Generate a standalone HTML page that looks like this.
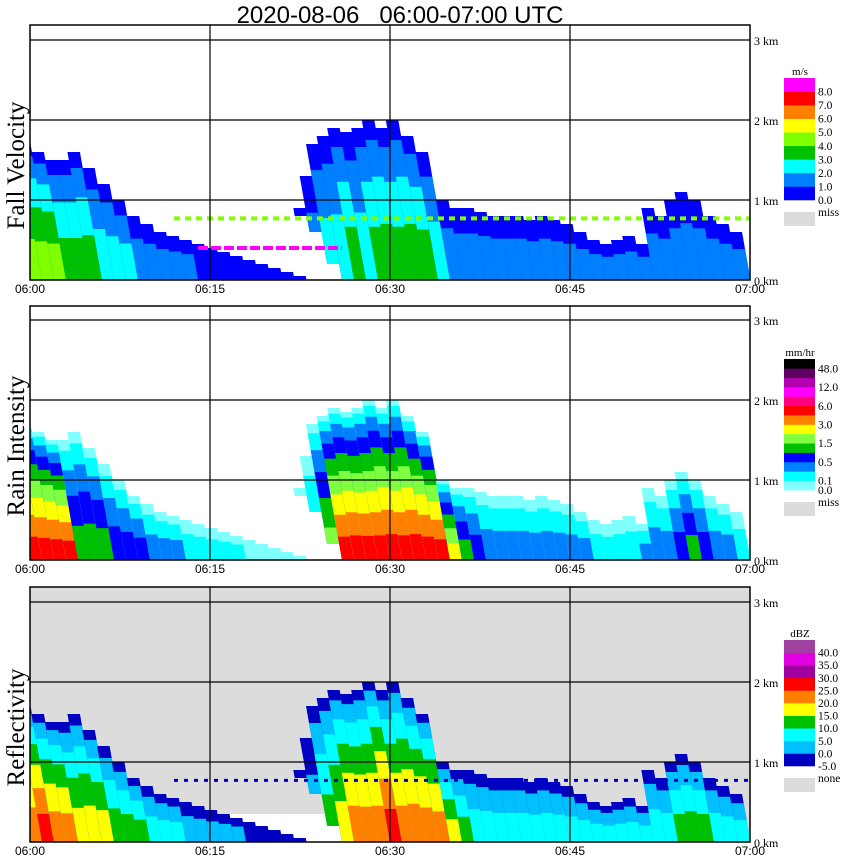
<!DOCTYPE html>
<html><head><meta charset="utf-8"><style>
body{margin:0;background:#fff;}
svg{display:block;font-family:"Liberation Sans",sans-serif;}
.serif{font-family:"Liberation Serif",serif;}
</style></head><body>
<svg id="chart" width="850" height="868" viewBox="0 0 850 868" xmlns="http://www.w3.org/2000/svg">
<text x="400" y="23" text-anchor="middle" font-size="24" fill="#000">2020-08-06&#160;&#160;&#160;06:00-07:00&#160;UTC</text>
</svg>
<script>
// ---- data (per minute 06:00..06:59) ----
const minutes = Array.from({length:60},(_,i)=>i);
const echoTopKm = [1.8,1.7,1.6,1.5,1.5,1.6,1.4,1.2,1.0,0.8,0.7,0.6,0.55,0.5,0.45,0.4,0.35,0.3,0.25,0.2,0.15,0.1,0.05,0.9,1.3,1.7,1.8,1.9,1.85,1.9,2.0,1.9,2.0,1.8,1.6,1.0,0.9,0.9,0.85,0.8,0.8,0.8,0.75,0.8,0.75,0.7,0.6,0.5,0.45,0.5,0.55,0.45,0.9,0.8,1.0,1.1,1.0,0.8,0.7,0.6];
const echoBaseKm = [0,0,0,0,0,0,0,0,0,0,0,0,0,0,0,0,0,0,0,0,0,0,0,0.8,0.6,0.2,0,0,0,0,0,0,0,0,0,0,0,0,0,0,0,0,0,0,0,0,0,0,0,0,0,0,0,0,0,0,0,0,0,0];
const fallPeak = [4,4,4,3,3,3,2,2,2,1,1,1,1,1,0,0,0,0,0,0,0,0,0,0,1,2,2,3,2,3,3,3,3,3,2,1,1,1,1,1,1,1,1,1,1,1,1,1,1,1,1,1,1,1,1,1,1,1,1,1];
const rainPeak = [8,8,8,8,4,4,4,3,3,3,2,2,2,1,1,1,1,1,0,0,0,0,0,1,2,5,8,8,8,8,8,8,8,8,8,6,4,3,2,2,2,2,2,2,2,2,2,1,1,1,1,2,2,2,3,4,3,2,2,1];
const reflPeak = [5,6,5,5,4,4,4,3,3,3,2,2,2,1,1,1,1,1,0,0,0,0,0,0,1,3,4,5,5,5,6,5,5,5,5,4,3,2,2,2,2,2,2,2,2,2,2,2,2,2,2,2,2,2,3,3,3,2,2,2];
const fallColors = ["#0000ff","#0080ff","#00ffff","#00c000","#80ff00","#ffff00","#ff8000","#ff0000","#ff00ff"];
const fallLabels = ["0.0","1.0","2.0","3.0","4.0","5.0","6.0","7.0","8.0"];
const rainColors = ["#80ffff","#00ffff","#0080ff","#0000ff","#00c000","#80ff40","#ffff00","#ff8000","#ff0000","#ff0080","#ff00ff","#b000b0","#600060","#000000"];
const rainLabels = ["0.0","0.1","","0.5","","1.5","","3.0","","6.0","","12.0","","48.0"];
const reflColors = ["#0000c0","#00c0ff","#00ffff","#00c000","#ffff00","#ff8000","#ff0000","#a000a0","#e000e0","#a040a0"];
const reflLabels = ["-5.0","0.0","5.0","10.0","15.0","20.0","25.0","30.0","35.0","40.0"];
const timeTicks = ["06:00","06:15","06:30","06:45","07:00"];
const kmTicks = ["0 km","1 km","2 km","3 km"];

const NS="http://www.w3.org/2000/svg";
const svg=document.getElementById('chart');
function mk(tag,attrs,parent){const e=document.createElementNS(NS,tag);for(const k in attrs)e.setAttribute(k,attrs[k]);(parent||svg).appendChild(e);return e;}
const X0=30,X1=750,PXMIN=12,PXKM=80;
const xs=m=>X0+m*PXMIN;
const panels=[
 {top:25,bottom:280,name:"fall-velocity",title:"Fall Velocity",peak:fallPeak,colors:fallColors,labels:fallLabels,unit:"m/s",miss:"miss",bg:"#fff",legTop:78,legH:122},
 {top:306,bottom:560,name:"rain-intensity",title:"Rain Intensity",peak:rainPeak,colors:rainColors,labels:rainLabels,unit:"mm/hr",miss:"miss",bg:"#fff",legTop:359,legH:131},
 {top:587,bottom:842,name:"reflectivity",title:"Reflectivity",peak:reflPeak,colors:reflColors,labels:reflLabels,unit:"dBZ",miss:"none",bg:"#dcdcdc",legTop:640,legH:126}
];
panels.forEach((p,pi)=>{
  const ys=km=>p.bottom-km*PXKM;
  const g=mk('g',{});
  
  
  const cid='clip'+pi;
  const cp=mk('clipPath',{id:cid},g);mk('rect',{x:X0,y:p.top,width:X1-X0,height:p.bottom-p.top},cp);
  const bg=mk('rect',{x:X0,y:p.top,width:X1-X0,height:p.bottom-p.top,fill:p.bg},g);
  
  
  const dg=mk('g',{'clip-path':`url(#${cid})`},g);
  if(pi==2){
    const w=mk('rect',{x:xs(15),y:ys(0.35),width:xs(26)-xs(15),height:0.35*PXKM,fill:"#fff"},dg);
    
    
  }
  const sk=mk('g',{transform:`translate(0,${p.bottom}) skewX(10) translate(0,${-p.bottom})`},dg);
  minutes.forEach(i=>{
    const T=echoTopKm[i],B=echoBaseKm[i],pk=p.peak[i];
    if(T<=B) return;
    for(let c=0;c<=pk;c++){
      const h=Math.max(B,T*(1-Math.pow(c/(pk+1),1.5)));
      if(h<=B) continue;
      const r=mk('rect',{x:xs(i),y:ys(h),width:PXMIN+0.5,height:(h-B)*PXKM,fill:p.colors[c]},sk);
      
      
    }
  });
  if(pi==0){
    const l=mk('line',{x1:xs(12),x2:X1,y1:ys(0.77),y2:ys(0.77),stroke:"#80ff00","stroke-width":4,"stroke-dasharray":"6 5"},dg);
    
    const m=mk('line',{x1:xs(14),x2:xs(26),y1:ys(0.4),y2:ys(0.4),stroke:"#ff00ff","stroke-width":4,"stroke-dasharray":"10 3"},dg);
    
  }
  if(pi==2){
    const l=mk('line',{x1:xs(12),x2:X1,y1:ys(0.77),y2:ys(0.77),stroke:"#0000c0","stroke-width":3,"stroke-dasharray":"4 6"},dg);
    
  }
  [1,2,3].forEach(k=>mk('line',{x1:X0,x2:X1,y1:ys(k),y2:ys(k),stroke:"#000","stroke-width":1.2},g));
  [15,30,45].forEach(m=>mk('line',{x1:xs(m),x2:xs(m),y1:p.top,y2:p.bottom,stroke:"#000","stroke-width":1.2},g));
  mk('rect',{x:X0,y:p.top,width:X1-X0,height:p.bottom-p.top,fill:"none",stroke:"#000","stroke-width":1.5},g);
  kmTicks.forEach((t,k)=>{const e=mk('text',{x:754,y:ys(k)+5,'font-size':12,class:'serif'},g);e.textContent=t;
    });
  timeTicks.forEach((t,k)=>{const e=mk('text',{x:xs(k*15),y:p.bottom+13,'font-size':12,'text-anchor':'middle'},g);e.textContent=t;
    });
  const ty=(p.top+p.bottom)/2+13;
  const tt=mk('text',{x:24,y:ty,'font-size':25,'text-anchor':'middle',class:'serif',transform:`rotate(-90 24 ${ty})`},g);
  tt.textContent=p.title;
  
  const lg=mk('g',{},g);
  
  
  const n=p.colors.length,bh=p.legH/n;
  const ut=mk('text',{x:800,y:p.legTop-3,'font-size':11,'text-anchor':'middle',class:'serif'},lg);ut.textContent=p.unit;
  for(let c=0;c<n;c++){
    const yy=p.legTop+(n-1-c)*bh;
    mk('rect',{x:784,y:yy,width:31,height:bh+0.3,fill:p.colors[c]},lg);
    if(p.labels[c]){const e=mk('text',{x:818,y:yy+bh+4,'font-size':11.5,class:'serif'},lg);e.textContent=p.labels[c];}
  }
  const mr=p.legTop+p.legH+12;
  mk('rect',{x:784,y:mr,width:31,height:14,fill:"#dcdcdc"},lg);
  const mt=mk('text',{x:818,y:mr+4,'font-size':11.5,class:'serif'},lg);mt.textContent=p.miss;
});
</script>
</body></html>
